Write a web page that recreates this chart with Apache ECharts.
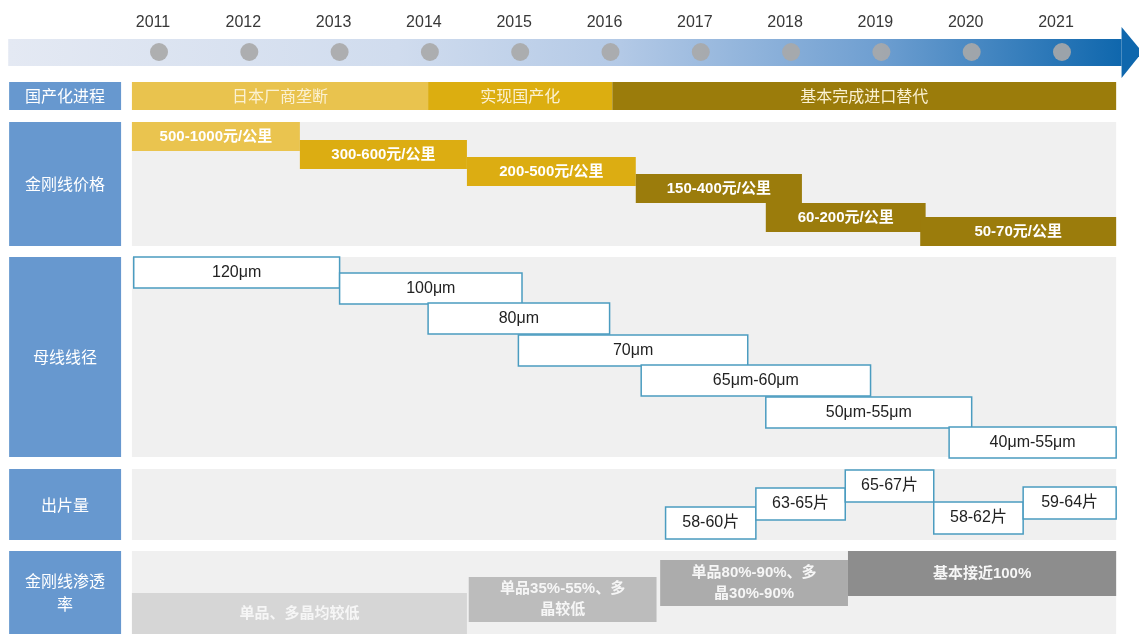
<!DOCTYPE html>
<html>
<head>
<meta charset="utf-8">
<script src="https://cdn.jsdelivr.net/npm/echarts@6/dist/echarts.min.js"></script>
<style>html,body{margin:0;padding:0;background:#fff}#c{width:1139px;height:634px}</style>
</head>
<body>
<div id="c"></div>
<script>
// ---------- data ----------
const years = [2011, 2012, 2013, 2014, 2015, 2016, 2017, 2018, 2019, 2020, 2021];
const rowNames = ['国产化进程', '金刚线价格', '母线线径', '出片量', '金刚线渗透\n率'];

const stageLabels = ['日本厂商垄断', '实现国产化', '基本完成进口替代'];
const stageStart = [2010.70, 2013.98, 2016.02];
const stageEnd   = [2013.98, 2016.02, 2021.60];

const priceLabels = ['500-1000元/公里', '300-600元/公里', '200-500元/公里', '150-400元/公里', '60-200元/公里', '50-70元/公里'];
const priceStart = [2010.70, 2012.56, 2014.41, 2016.28, 2017.72, 2019.43];
const priceEnd   = [2012.56, 2014.41, 2016.28, 2018.12, 2019.49, 2021.60];

const wireLabels = ['120μm', '100μm', '80μm', '70μm', '65μm-60μm', '50μm-55μm', '40μm-55μm'];
const wireStart = [2010.72, 2013.00, 2013.98, 2014.98, 2016.34, 2017.72, 2019.75];
const wireEnd   = [2013.00, 2015.02, 2015.99, 2017.52, 2018.88, 2020.00, 2021.60];

const waferLabels = ['58-60片', '63-65片', '65-67片', '58-62片', '59-64片'];
const waferStart = [2016.61, 2017.61, 2018.60, 2019.58, 2020.57];
const waferEnd   = [2017.61, 2018.60, 2019.58, 2020.57, 2021.60];

const penLabels = ['单品、多晶均较低', '单品35%-55%、多\n晶较低', '单品80%-90%、多\n晶30%-90%', '基本接近100%'];
const penStart = [2010.70, 2014.43, 2016.55, 2018.63];
const penEnd   = [2014.41, 2016.51, 2018.63, 2021.60];

// ---------- layout & style ----------
const X_MIN = 2009.239, X_MAX = 2021.853;
const LBL_X0 = 2009.34, LBL_X1 = 2010.58, ROW_X0 = 2010.70, ROW_X1 = 2021.60;
const ARROW_X0 = 2009.33, ARROW_BODY_X1 = 2021.66, ARROW_TIP = 2021.89;
const rowBand = [[82, 110], [122, 246], [257, 457], [469, 540], [551, 640]];
const priceTop = [122, 140, 157, 174, 203, 217], priceH = 29;
const wireTop = [257, 273, 303, 335, 365, 397, 427], wireH = 31;
const waferTop = [507, 488, 470, 502, 487], waferH = 32;
const penTop = [593, 577, 560, 551], penH = [41, 45, 46, 45];

const stageColors = ['#e9c34e', '#dcae10', '#9b7c0b'];
const priceColors = ['#eac44f', '#dcad12', '#dcad12', '#9b7c0c', '#9b7c0c', '#9b7c0c'];
const penColors = ['#d6d6d6', '#bcbcbc', '#acacac', '#8d8d8d'];
const LATIN = "'Liberation Sans','Noto Sans CJK SC',sans-serif";
const CJK = "'Noto Sans CJK SC',sans-serif";

function boxes(items, z) {
  return {
    type: 'custom', coordinateSystem: 'cartesian2d', silent: true, z: z || 2,
    data: items.map(it => [it.x0, it.x1, it.y0, it.y1]),
    renderItem(params, api) {
      const it = items[params.dataIndex];
      const p0 = api.coord([api.value(0), api.value(2)]);
      const p1 = api.coord([api.value(1), api.value(3)]);
      const el = {
        type: 'rect',
        shape: { x: p0[0], y: p0[1], width: p1[0] - p0[0], height: p1[1] - p0[1] },
        style: { fill: it.fill, stroke: it.stroke || null, lineWidth: it.lw || 0 }
      };
      if (it.text) {
        el.textContent = { style: { text: it.text, fill: it.color, font: it.font, align: 'center', verticalAlign: 'middle', lineHeight: it.lh || 20 } };
        el.textConfig = { position: 'inside' };
      }
      return el;
    }
  };
}

// left labels + gray backgrounds
const leftItems = rowNames.map((n, i) => ({
  x0: LBL_X0, x1: LBL_X1, y0: rowBand[i][0], y1: i === 4 ? 634 : rowBand[i][1],
  fill: '#6798cf', text: n, color: '#ffffff', font: '16px ' + CJK, lh: 23
}));
const bgItems = [1, 2, 3, 4].map(i => ({ x0: ROW_X0, x1: ROW_X1, y0: rowBand[i][0], y1: rowBand[i][1], fill: '#f0f0f0' }));

const stageItems = stageLabels.map((t, i) => ({
  x0: stageStart[i], x1: stageEnd[i], y0: rowBand[0][0], y1: rowBand[0][1],
  fill: stageColors[i], text: t, color: '#fbf1d2', font: '16px ' + CJK
}));
const priceItems = priceLabels.map((t, i) => ({
  x0: priceStart[i], x1: priceEnd[i], y0: priceTop[i], y1: priceTop[i] + priceH,
  fill: priceColors[i], text: t, color: '#ffffff', font: 'bold 15px ' + LATIN
}));
const wireItems = wireLabels.map((t, i) => ({
  x0: wireStart[i], x1: wireEnd[i], y0: wireTop[i], y1: wireTop[i] + wireH,
  fill: '#ffffff', stroke: '#4b9cc0', lw: 1.5, text: t, color: '#222222', font: '16px ' + LATIN
}));
const waferItems = waferLabels.map((t, i) => ({
  x0: waferStart[i], x1: waferEnd[i], y0: waferTop[i], y1: waferTop[i] + waferH,
  fill: '#ffffff', stroke: '#4b9cc0', lw: 1.5, text: t, color: '#222222', font: '16px ' + LATIN
}));
const penItems = penLabels.map((t, i) => ({
  x0: penStart[i], x1: penEnd[i], y0: penTop[i], y1: penTop[i] + penH[i],
  fill: penColors[i], text: t, color: '#f6f6f6', font: 'bold 15px ' + LATIN, lh: 21
}));

const arrowSeries = {
  type: 'custom', coordinateSystem: 'cartesian2d', silent: true, z: 1,
  data: [[ARROW_X0, ARROW_BODY_X1, ARROW_TIP]],
  renderItem(params, api) {
    const a = api.coord([api.value(0), 39]);
    const b = api.coord([api.value(1), 66]);
    const tip = api.coord([api.value(2), 52]);
    const hTop = api.coord([api.value(1), 27]);
    const hBot = api.coord([api.value(1), 78]);
    return {
      type: 'group', children: [
        { type: 'rect', shape: { x: a[0], y: a[1], width: b[0] - a[0], height: b[1] - a[1] },
          style: { fill: { type: 'linear', x: 0, y: 0, x2: 1, y2: 0, colorStops: [
            { offset: 0, color: '#e4e9f3' }, { offset: 0.35, color: '#d0dcee' },
            { offset: 0.55, color: '#b3c9e6' }, { offset: 0.78, color: '#6f9fd1' }, { offset: 1, color: '#0f67ad' }] } } },
        { type: 'polygon', shape: { points: [[hTop[0], hTop[1]], [tip[0], tip[1]], [hBot[0], hBot[1]]] }, style: { fill: '#0f67ad' } }
      ]
    };
  }
};

const chart = echarts.init(document.getElementById('c'));
chart.setOption({
  animation: false,
  grid: { left: 0, right: 0, top: 0, bottom: 0 },
  xAxis: { type: 'value', min: X_MIN, max: X_MAX, show: false },
  yAxis: { type: 'value', min: 0, max: 634, inverse: true, show: false },
  series: [
    arrowSeries,
    {
      type: 'scatter', silent: true, z: 3,
      data: years.map(y => [y, 52]),
      symbol: 'circle', symbolSize: 18,
      itemStyle: { color: '#a9a9a9', opacity: 0.9 },
      label: { show: true, position: 'inside', offset: [-6, -29], formatter: p => String(p.value[0]),
               color: '#222222', fontSize: 16, fontFamily: LATIN }
    },
    boxes(leftItems, 2),
    boxes(bgItems, 1),
    boxes(stageItems, 2),
    boxes(priceItems, 3),
    boxes(wireItems, 3),
    boxes(waferItems, 3),
    boxes(penItems, 3)
  ]
});
</script>
</body>
</html>
